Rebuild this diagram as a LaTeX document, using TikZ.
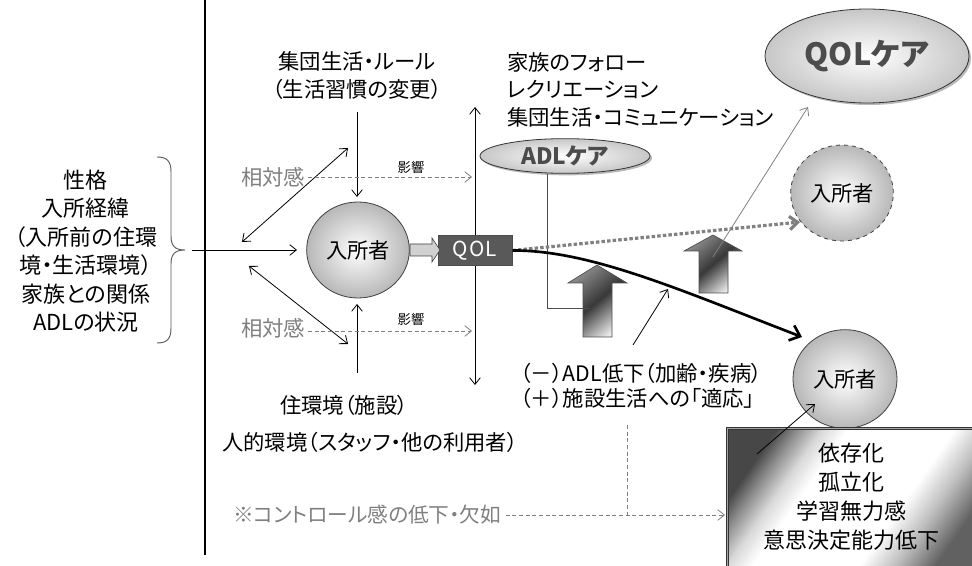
\documentclass[tikz,border=0pt]{standalone}
\usepackage{fontspec}
\setmainfont{Noto Sans CJK JP}[RawFeature={+palt}]
\usetikzlibrary{arrows.meta,shadows,shapes.geometric}
\definecolor{txtgray}{HTML}{7F7F7F}
\definecolor{qolfill}{HTML}{595959}
\pgfdeclarehorizontalshading{boxshade}{100bp}{color(0bp)=(black!72); color(25bp)=(black!72); color(29bp)=(black!45); color(34bp)=(black!15); color(39bp)=(white); color(60bp)=(white); color(67bp)=(black!25); color(75bp)=(black!62); color(100bp)=(black!62)}
\tikzset{
  txt/.style={font=\fontsize{16}{21}\selectfont, align=center, inner sep=0pt},
  gtxt/.style={txt, text=txtgray},
  smalltxt/.style={font=\fontsize{10}{12}\selectfont, inner sep=0pt},
  tarrow/.style={-{Straight Barb[length=5pt,width=8pt]}, line width=0.6pt},
  darrow/.style={{Straight Barb[length=5pt,width=8pt]}-{Straight Barb[length=5pt,width=8pt]}, line width=0.6pt},
  gdash/.style={txtgray, dash pattern=on 3pt off 2pt, line width=0.6pt, -{Straight Barb[length=5pt,width=8pt]}},
  person/.style={ellipse, draw=black!75, line width=0.6pt, inner color=white, outer color=black!28,
     minimum width=77pt, minimum height=72pt, inner sep=0pt, font=\fontsize{16}{20}\selectfont},
  care/.style={ellipse, draw=black!80, line width=0.6pt, inner color=white, outer color=black!22,
     drop shadow={shadow xshift=1.5pt, shadow yshift=-1.5pt, fill=black!55}, inner sep=0pt},
  blockarrow/.style={draw=black!70, line width=0.5pt, left color=black!45, right color=black!8, middle color=black!78, shading angle=40},
}
\begin{document}
\begin{tikzpicture}[x=0.75pt,y=-0.75pt]
\useasboundingbox (0,0) rectangle (972,566);
\clip (0,0) rectangle (972,566);

% vertical axis
\coordinate (axT) at (205,0);
\coordinate (axB) at (205,555);
\draw[line width=0.8pt] (axT) -- (axB);

% left text and brace
\node[txt, font=\fontsize{16.5}{21.4}\selectfont] (left) at (86,251)
  {性格\\入所経緯\\（入所前の住環\\境・生活環境）\\家族との関係\\ADLの状況};
\draw[black!65, line width=0.7pt] (157,157) .. controls (167,157) and (171,161) .. (171,172)
  -- (171,236) .. controls (171,246) and (175,250) .. (185,250)
  .. controls (175,250) and (171,254) .. (171,264)
  -- (171,328) .. controls (171,339) and (167,343) .. (157,343);

% central person
\node[person] (p1) at (358,250) {入所者};
\coordinate (hs) at (192,250);
\coordinate (he) at (297,250);
\draw[tarrow] (hs) -- (he);

% double arrows
\coordinate (d1a) at (242,242);
\coordinate (d1b) at (348,148);
\draw[darrow] (d1a) -- (d1b);
\coordinate (d2a) at (249,266);
\coordinate (d2b) at (348,344);
\draw[darrow] (d2a) -- (d2b);

% top label and arrow
\node[txt, font=\fontsize{16}{21}\selectfont] (toplbl) at (357,76) {集団生活・ルール\\（生活習慣の変更）};
\coordinate (ta1) at (357,112);
\coordinate (ta2) at (357,197);
\draw[tarrow] (ta1) -- (ta2);

% bottom label and arrow
\node[txt] (env) at (344,405) {住環境（施設）};
\node[txt, anchor=west] (hum) at (222,442) {人的環境（スタッフ・他の利用者）};
\coordinate (ba1) at (357,373);
\coordinate (ba2) at (357,304);
\draw[tarrow] (ba1) -- (ba2);

% relative sense labels
\node[gtxt] (rel1) at (273,177) {相対感};
\node[gtxt] (rel2) at (273,328) {相対感};
\coordinate (e1) at (472,177);
\coordinate (e2) at (472,331);
\draw[gdash] ([xshift=2pt]rel1.east) -- (e1);
\draw[gdash] ([xshift=2pt]rel2.east |- e2) -- (e2);
\node[smalltxt] (inf1) at (411,167) {影響};
\node[smalltxt] (inf2) at (411,319) {影響};

% vertical double arrow
\coordinate (v1) at (475,107);
\coordinate (v2) at (475,385);
\draw[darrow] (v1) -- (v2);

% QOL box
\node[fill=qolfill, draw=black!70, line width=0.5pt, text=white, minimum width=55.5pt, minimum height=22pt,
  inner sep=0pt, font=\fontsize{15.5}{17}\selectfont\addfontfeature{LetterSpace=6}] (qol) at (475,250.5) {QOL};

% small block arrow person -> QOL
\draw[fill=black!18, draw=black!75, line width=0.5pt]
  (410,244) -- (432,244) -- (432,238) -- (440,250) -- (432,262) -- (432,256) -- (410,256) -- cycle;

% right top text
\node[txt, anchor=west, align=left, font=\fontsize{16}{20.6}\selectfont] (fam) at (507,89.5)
  {家族のフォロー\\レクリエーション\\集団生活・コミュニケーション};

% ADL care
\node[care, minimum width=127.5pt, minimum height=26pt, font=\fontsize{17}{20}\selectfont\bfseries, text=black!70] (adl) at (565,156) {ADLケア};

% QOL care
\node[care, minimum width=153pt, minimum height=70.5pt, font=\fontsize{23}{26}\selectfont\bfseries, text=black!70] (qolcare) at (867,56) {QOLケア};

% persons right
\node[person, dashed] (p2) at (842,193) {入所者};
\node[person, minimum height=74pt, minimum width=78pt] (p3) at (845,379) {入所者};

% big block arrows
\draw[blockarrow] (597,265) -- (627,283) -- (612,283) -- (612,337) -- (583,337) -- (583,283) -- (568,283) -- cycle;
\draw[blockarrow] (713,235) -- (742,251) -- (728,251) -- (728,293) -- (699,293) -- (699,251) -- (684,251) -- cycle;

% ADL care line
\coordinate (al1) at (547,308);
\coordinate (al2) at (590,308);
\draw[black!70, line width=0.6pt] (adl.south -| al1) -- (al1) -- (al2);

% dotted gray QOL line
\coordinate (dotend) at (800,222);
\draw[black!50, line width=2.4pt, dash pattern=on 2.6pt off 1.6pt, -{Straight Barb[length=6pt,width=10pt]}] (qol.east) -- (dotend);

% thick decline curve
\coordinate (curend) at (802,337);
\draw[line width=2pt, -{Straight Barb[length=7pt,width=12pt]}] (qol.east) .. controls (590,250) and (680,290) .. (curend);

% thin gray arrow to QOL care
\coordinate (g1) at (713,257);
\coordinate (g2) at (808,107);
\draw[black!50, tarrow] (g1) -- (g2);

% thin arrow to curve
\coordinate (k1) at (633,345);
\coordinate (k2) at (668,289);
\draw[tarrow] (k1) -- (k2);

% adaptation text
\node[txt, anchor=west, align=left, font=\fontsize{16}{19}\selectfont] (adlneg) at (520,386)
  {（－）ADL低下（加齢・疾病）\\（＋）施設生活への「適応」};

% lowered control
\node[gtxt, font=\fontsize{15.5}{18}\selectfont, anchor=west] (ctrl) at (233,515) {※コントロール感の低下・欠如};
\coordinate (c1) at (725,515);
\coordinate (c2) at (627,425);
\coordinate (c3) at (627,515);
\draw[gdash] ([xshift=3pt]ctrl.east |- c1) -- (c1);
\draw[txtgray, dash pattern=on 3pt off 2pt, line width=0.6pt] (c2) -- (c3);

% result box
\node[draw=black!80, line width=0.5pt, double=black!35, double distance=1.2pt,
  shading=boxshade, shading angle=-35,
  minimum width=190pt, minimum height=108pt, anchor=north west, inner sep=0pt] (box) at (727,428) {};
\node[txt, font=\fontsize{16.5}{21.8}\selectfont] (boxtxt) at (851,497) {依存化\\孤立化\\学習無力感\\意思決定能力低下};
\coordinate (b1) at (757,454);
\coordinate (b2) at (815,404);
\draw[tarrow] (b1) -- (b2);
\end{tikzpicture}
\end{document}
